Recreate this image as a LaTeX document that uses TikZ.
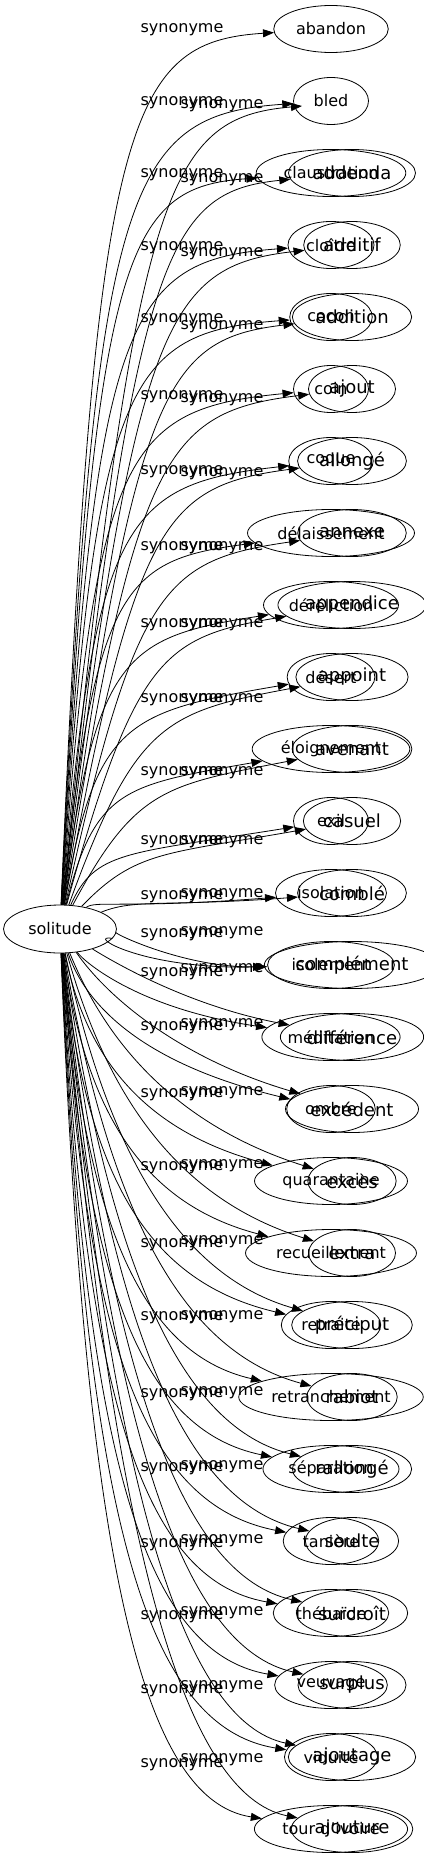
\documentclass[tikz,border=0pt]{standalone}
\usepackage{fontspec}
\setmainfont{DejaVu Sans}
\usetikzlibrary{shapes.geometric,arrows.meta}
\tikzset{
 ell/.style={draw, ellipse, inner xsep=5.5pt, inner ysep=0pt, minimum height=47pt, line width=0.8pt},
 nA/.style={ell, minimum width=75pt, font=\fontsize{16pt}{19pt}\selectfont},
 nB/.style={ell, minimum width=87pt, font=\fontsize{18pt}{21pt}\selectfont},
 lbl/.style={font=\fontsize{16pt}{19pt}\selectfont, inner sep=0pt},
 syn/.style={draw, line width=0.8pt, -{Triangle[length=11pt,width=8pt]}},
}
\begin{document}
\begin{tikzpicture}[x=1pt,y=-1pt]
\useasboundingbox (0,0) rectangle (423,1859);
\node[ell, minimum width=113pt, minimum height=48pt, font=\fontsize{16pt}{19pt}\selectfont] (root) at (60,929) {solitude};
% graph A nodes and labels
\foreach \tx/\la [count=\i from 0] in {abandon/30, bled/103, claustration/175, cloître/248, cocon/320, coin/397, coque/472, délaissement/548, déréliction/625, désert/700, éloignement/773, exil/842, isolation/897, isolement/935, méditation/974, ombre/1028, quarantaine/1095, recueillement/1168, retraite/1245, retranchement/1318, séparation/1395, tanière/1469, thébaïde/1545, veuvage/1617, viduité/1691, tour d'ivoire/1765} {
  \pgfmathsetmacro\yN{29+72*\i}
  \node[nA] (a\i) at (331,\yN) {\tx};
  \node[lbl] (la\i) at (182,\la) {synonyme};
}
% graph B nodes and labels
\coordinate (b1) at (302,106);
\foreach \tx/\la [count=\i from 1] in {/106, addenda/180, additif/254, addition/327, ajout/400, allongé/474, annexe/548, appendice/625, appoint/700, avenant/773, casuel/842, comblé/895, complément/933, différence/970, excédent/1025, excès/1093, extra/1166, préciput/1242, rabiot/1317, rallongé/1393, soulte/1467, surcroît/1541, surplus/1613, ajoutage/1687, ajouture/1760} {
  \pgfmathsetmacro\yN{29+72*\i}
  \ifnum\i>1 \node[nB] (b\i) at (352,\yN) {\tx};\fi
  \node[lbl] (lb\i) at (222,\la) {synonyme};
}
% graph A edges
\foreach \la [count=\i from 0] in {30,103,175,248,320,397,472,548,625,700,773,842,897,935,974,1028,1095,1168,1245,1318,1395,1469,1545,1617,1691,1765} {
  \ifnum\i<13
    \pgfmathsetmacro\ya{\la+0.1*(929-\la)}
    \pgfmathsetmacro\yb{\la+12}
    \draw[syn] (root) .. controls (95,\ya) and (125,\yb) .. (a\i);
  \else
    \pgfmathsetmacro\ya{929+0.75*(\la-929)}
    \pgfmathsetmacro\yb{\la+35}
    \draw[syn] (root) .. controls (85,\ya) and (140,\yb) .. (a\i);
  \fi
}
% graph B edges
\foreach \la [count=\i from 1] in {106,180,254,327,400,474,548,625,700,773,842,895,933,970,1025,1093,1166,1242,1317,1393,1467,1541,1613,1687,1760} {
  \ifnum\i<13
    \pgfmathsetmacro\ya{\la+0.1*(929-\la)}
    \pgfmathsetmacro\yb{\la+12}
    \draw[syn] (root) .. controls (135,\ya) and (165,\yb) .. (b\i);
  \else
    \pgfmathsetmacro\ya{929+0.75*(\la-929)}
    \pgfmathsetmacro\yb{\la+35}
    \draw[syn] (root) .. controls (110,\ya) and (185,\yb) .. (b\i);
  \fi
}
\end{tikzpicture}
\end{document}
